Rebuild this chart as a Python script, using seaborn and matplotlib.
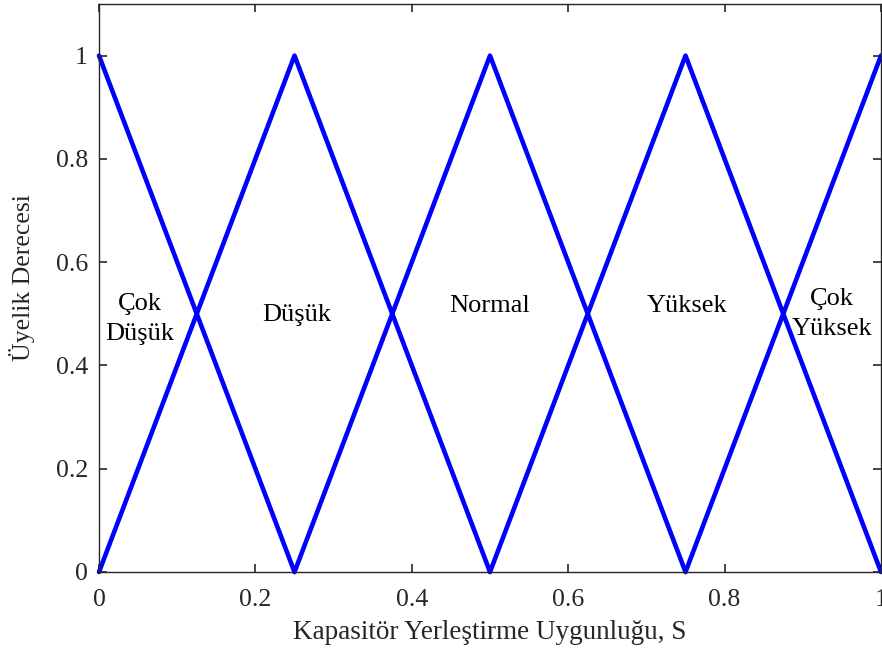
import matplotlib
matplotlib.use("Agg")
import matplotlib.pyplot as plt
import seaborn as sns
import pandas as pd

# Membership function breakpoints
sets = ["Çok Düşük", "Düşük", "Normal", "Yüksek", "Çok Yüksek"]
set_x = [[0.0, 0.25], [0.0, 0.25, 0.5], [0.25, 0.5, 0.75], [0.5, 0.75, 1.0], [0.75, 1.0]]
set_y = [[1.0, 0.0], [0.0, 1.0, 0.0], [0.0, 1.0, 0.0], [0.0, 1.0, 0.0], [0.0, 1.0]]

label_texts = ["Çok\nDüşük", "Düşük", "Normal", "Yüksek", "Çok\nYüksek"]
label_x = [0.052, 0.253, 0.5, 0.752, 0.937]
label_y = [0.49, 0.497, 0.516, 0.516, 0.50]

xticks = [0, 0.2, 0.4, 0.6, 0.8, 1]
xtick_labels = ["0", "0.2", "0.4", "0.6", "0.8", "1"]
yticks = [0, 0.2, 0.4, 0.6, 0.8, 1]
ytick_labels = ["0", "0.2", "0.4", "0.6", "0.8", "1"]

rows = []
for name, xs, ys in zip(sets, set_x, set_y):
    for i, (xv, yv) in enumerate(zip(xs, ys)):
        rows.append({"set": name, "x": xv, "y": yv, "order": i})
df = pd.DataFrame(rows)

sns.set_style("ticks")
plt.rcParams["font.family"] = ["Liberation Serif", "DejaVu Serif"]

fig = plt.figure(figsize=(8.82, 6.55), dpi=100)
ax = fig.add_axes([99 / 882, 1 - 572 / 655, (881 - 99) / 882, (572 - 4) / 655])

sns.lineplot(data=df, x="x", y="y", hue="set", hue_order=sets,
             palette=["#0000ff"] * len(sets), sort=False, linewidth=3.3,
             legend=False, ax=ax, estimator=None, clip_on=False)

for t, xv, yv in zip(label_texts, label_x, label_y):
    ax.text(xv, yv, t, ha="center", va="center", fontsize=19, color="black",
            linespacing=1.45)

ax.set_xlim(0, 1)
ax.set_ylim(0, 1.1)
ax.set_xticks(xticks)
ax.set_xticklabels(xtick_labels)
ax.set_yticks(yticks)
ax.set_yticklabels(ytick_labels)
ax.tick_params(direction="in", length=6, width=1.2, top=True, right=True,
               labelsize=18.5, colors="#262626")
ax.tick_params(axis="x", pad=12)
ax.tick_params(axis="y", pad=8)
for s in ax.spines.values():
    s.set_visible(True)
    s.set_color("#262626")
    s.set_linewidth(1.0)

ax.set_xlabel("Kapasitör Yerleştirme Uygunluğu, S", fontsize=19.5, color="#262626", labelpad=7)
ax.set_ylabel("Üyelik Derecesi", fontsize=18.5, color="#262626")
ax.yaxis.set_label_coords(-0.082, 0.518)

fig.savefig("out.png", dpi=100)
